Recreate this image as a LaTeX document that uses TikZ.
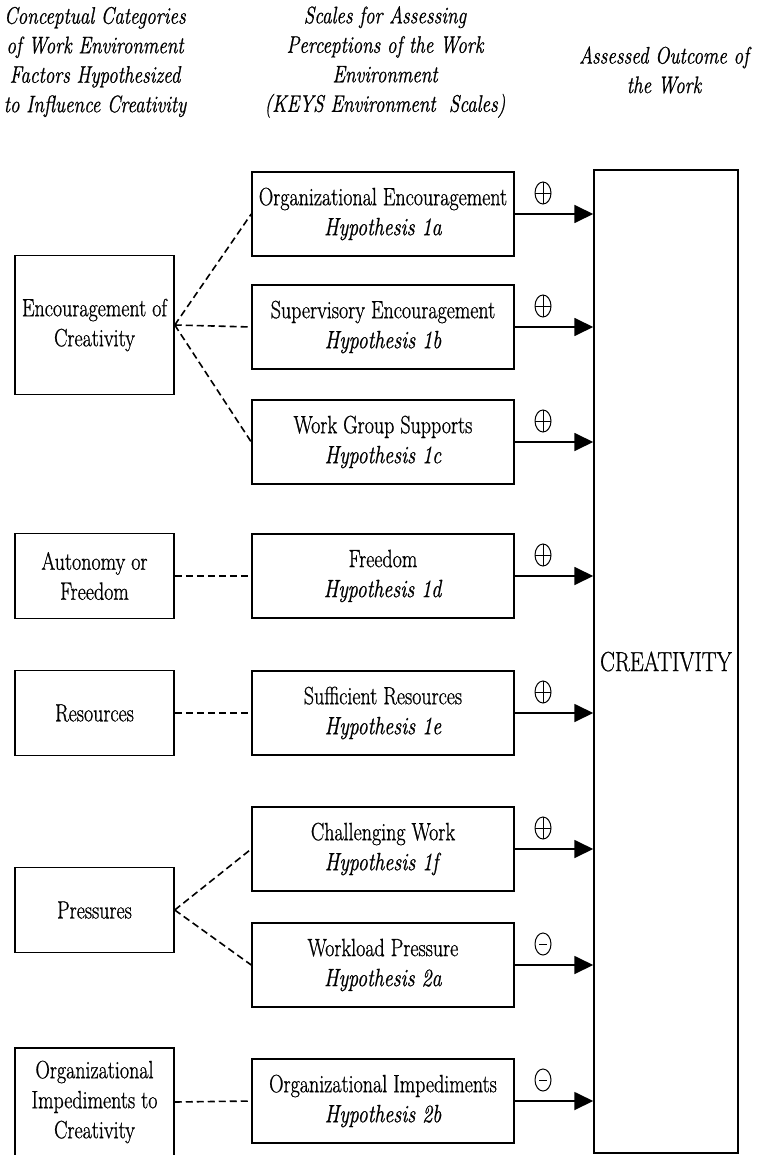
\documentclass[tikz,border=0pt]{standalone}
\usepackage{fontspec}
\setmainfont{Latin Modern Roman}[FakeStretch=0.8,FakeBold=0.8]
\usetikzlibrary{shapes.geometric,arrows.meta}
\begin{document}
\begin{tikzpicture}[x=1pt,y=-1pt,
  box/.style={draw, line width=1.5pt, rectangle, align=center, inner sep=0pt, font=\fontsize{25}{30}\selectfont},
  midbox/.style={box, minimum width=262pt, minimum height=84pt},
  leftbox/.style={box, minimum width=159pt, minimum height=85pt},
  link/.style={dash pattern=on 7pt off 4pt, line width=1.6pt},
  arr/.style={line width=1.8pt, -{Triangle[length=19pt,width=18pt]}},
  hdr/.style={align=center, font=\fontsize{23.9}{29.5}\selectfont\itshape},
  sign/.style={ellipse, draw, line width=1pt, minimum width=16pt, minimum height=22pt, inner sep=0pt},
  plussign/.style={sign, path picture={\draw[line width=0.8pt] (path picture bounding box.north) -- (path picture bounding box.south) (path picture bounding box.west) -- (path picture bounding box.east);}},
  minussign/.style={sign, path picture={\draw[line width=0.8pt] ([xshift=4pt]path picture bounding box.west) -- ([xshift=-4pt]path picture bounding box.east);}}
]
\useasboundingbox (0,0) rectangle (756,1155);

% headers
\node[hdr] (h1) at (95,62) {Conceptual Categories\\of Work Environment\\Factors Hypothesized\\to Influence Creativity};
\node[hdr] (h2) at (385,62) {Scales for Assessing\\Perceptions of the Work\\Environment\\(KEYS Environment\ \ Scales)};
\node[hdr] (h3) at (664,70) {Assessed Outcome of\\the Work};

% outcome
\node[box, minimum width=144pt, minimum height=983pt, font=\fontsize{27.6}{32}\selectfont] (cr) at (666,661.5) {CREATIVITY};

% scales
\node[midbox] (s1) at (383,214) {Organizational Encouragement\\\textit{Hypothesis 1a}};
\node[midbox] (s2) at (383,327) {Supervisory Encouragement\\\textit{Hypothesis 1b}};
\node[midbox] (s3) at (383,442) {Work Group Supports\\\textit{Hypothesis 1c}};
\node[midbox] (s4) at (383,576) {Freedom\\\textit{Hypothesis 1d}};
\node[midbox] (s5) at (383,713) {Sufficient Resources\\\textit{Hypothesis 1e}};
\node[midbox] (s6) at (383,849) {Challenging Work\\\textit{Hypothesis 1f}};
\node[midbox] (s7) at (383,965) {Workload Pressure\\\textit{Hypothesis 2a}};
\node[midbox] (s8) at (383,1101) {Organizational Impediments\\\textit{Hypothesis 2b}};

% categories
\node[leftbox, minimum height=139pt] (c1) at (94.5,325) {Encouragement of\\Creativity};
\node[leftbox] (c2) at (94.5,576) {Autonomy or\\Freedom};
\node[leftbox] (c3) at (94.5,713) {Resources};
\node[leftbox] (c4) at (94.5,910) {Pressures};
\node[leftbox, minimum height=108pt] (c5) at (94.5,1102) {Organizational\\Impediments to\\Creativity};

% dashed links
\draw[link] (c1.east) -- (s1.west);
\draw[link] (c1.east) -- (s2.west);
\draw[link] (c1.east) -- (s3.west);
\draw[link] (c2.east) -- (s4.west);
\draw[link] (c3.east) -- (s5.west);
\draw[link] (c4.east) -- (s6.west);
\draw[link] (c4.east) -- (s7.west);
\draw[link] (c5.east) -- (s8.west);

% arrows to outcome
\foreach \s in {s1,s2,s3,s4,s5,s6,s7,s8}
  \draw[arr] (\s.east) -- (\s.east -| cr.west);

% signs
\node[plussign] (g1) at (543,193) {};
\node[plussign] (g2) at (543,306) {};
\node[plussign] (g3) at (543,421) {};
\node[plussign] (g4) at (543,555) {};
\node[plussign] (g5) at (543,692) {};
\node[plussign] (g6) at (543,828) {};
\node[minussign] (g7) at (543,944) {};
\node[minussign] (g8) at (543,1080) {};
\end{tikzpicture}
\end{document}
